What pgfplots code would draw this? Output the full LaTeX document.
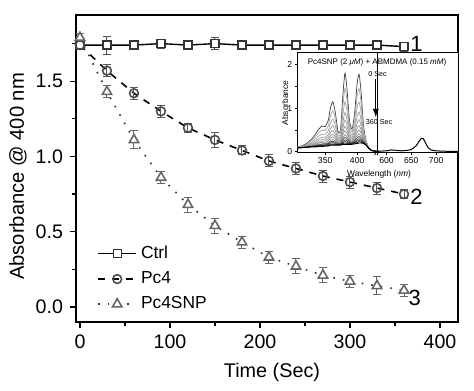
\documentclass[border=0pt]{standalone}
\usepackage{fontspec}
\setmainfont{Liberation Sans}
\usepackage{pgfplots}
\pgfplotsset{compat=1.18}
\usepackage{pgfplotstable}

\pgfplotstableread{
t ctrl ec pc ep snp es
0 1.74 0.02 1.74 0.02 1.79 0.03
30 1.74 0.06 1.57 0.04 1.43 0.04
60 1.74 0.03 1.42 0.04 1.11 0.06
90 1.75 0.03 1.30 0.04 0.86 0.04
120 1.74 0.02 1.19 0.03 0.68 0.05
150 1.75 0.04 1.11 0.05 0.54 0.05
180 1.74 0.02 1.04 0.03 0.43 0.04
210 1.74 0.02 0.97 0.04 0.33 0.04
240 1.74 0.03 0.92 0.04 0.27 0.05
270 1.74 0.03 0.87 0.04 0.21 0.05
300 1.74 0.03 0.83 0.04 0.17 0.04
330 1.74 0.03 0.79 0.04 0.14 0.06
360 1.73 0.03 0.75 0.03 0.11 0.04
}\kin

\pgfplotstableread{
w a0 a1 a2 a3 a4 a5 a6 a7 a8 a9 a10 a11 a12
300 0.09 0.09 0.09 0.08 0.08 0.08 0.08 0.08 0.08 0.08 0.08 0.08 0.08
310 0.12 0.11 0.11 0.10 0.10 0.10 0.10 0.09 0.09 0.09 0.09 0.09 0.09
320 0.18 0.16 0.15 0.14 0.13 0.12 0.12 0.11 0.11 0.11 0.10 0.10 0.10
330 0.31 0.27 0.23 0.20 0.18 0.16 0.15 0.14 0.13 0.12 0.12 0.12 0.11
335 0.41 0.35 0.29 0.25 0.21 0.19 0.17 0.15 0.14 0.13 0.12 0.12 0.11
340 0.52 0.44 0.36 0.30 0.26 0.22 0.20 0.18 0.16 0.15 0.14 0.13 0.12
345 0.59 0.49 0.40 0.33 0.28 0.24 0.21 0.18 0.17 0.15 0.14 0.13 0.12
350 0.58 0.49 0.40 0.33 0.29 0.25 0.22 0.19 0.18 0.16 0.15 0.14 0.13
355 0.73 0.60 0.49 0.40 0.34 0.29 0.25 0.21 0.19 0.17 0.16 0.14 0.13
358 0.99 0.81 0.65 0.52 0.43 0.36 0.31 0.26 0.23 0.20 0.18 0.16 0.15
362 1.15 0.94 0.75 0.60 0.49 0.40 0.34 0.28 0.24 0.21 0.18 0.16 0.15
366 0.89 0.73 0.59 0.48 0.40 0.34 0.29 0.24 0.22 0.19 0.17 0.16 0.15
370 0.47 0.40 0.34 0.29 0.26 0.23 0.21 0.19 0.18 0.17 0.16 0.16 0.15
374 0.50 0.43 0.36 0.31 0.27 0.24 0.22 0.20 0.19 0.17 0.17 0.16 0.15
378 1.36 1.11 0.88 0.70 0.57 0.47 0.40 0.32 0.28 0.24 0.21 0.19 0.17
381 1.81 1.46 1.15 0.90 0.73 0.59 0.48 0.39 0.33 0.27 0.23 0.20 0.17
384 1.46 1.19 0.94 0.75 0.61 0.50 0.42 0.34 0.29 0.25 0.22 0.19 0.17
388 0.72 0.61 0.50 0.42 0.36 0.31 0.28 0.25 0.23 0.21 0.19 0.18 0.17
392 0.52 0.45 0.38 0.33 0.29 0.26 0.24 0.22 0.21 0.19 0.19 0.18 0.17
396 0.88 0.73 0.60 0.50 0.42 0.36 0.32 0.28 0.25 0.23 0.21 0.20 0.18
400 1.58 1.29 1.02 0.81 0.66 0.54 0.45 0.37 0.32 0.27 0.24 0.21 0.19
403 1.78 1.45 1.14 0.91 0.74 0.60 0.50 0.41 0.35 0.30 0.26 0.23 0.20
406 1.39 1.14 0.91 0.73 0.60 0.50 0.43 0.35 0.31 0.27 0.24 0.22 0.20
410 0.59 0.51 0.43 0.37 0.33 0.29 0.27 0.25 0.23 0.22 0.21 0.20 0.19
414 0.25 0.23 0.21 0.20 0.19 0.18 0.17 0.16 0.16 0.16 0.15 0.15 0.15
418 0.10 0.10 0.09 0.09 0.09 0.09 0.08 0.08 0.08 0.08 0.08 0.08 0.08
422 0.03 0.03 0.03 0.03 0.03 0.03 0.03 0.03 0.03 0.03 0.03 0.03 0.03
430 0.01 0.01 0.01 0.01 0.01 0.01 0.01 0.01 0.01 0.01 0.01 0.01 0.01
}\spec

\pgfplotstableread{
w a
580 0.01
600 0.02
610 0.04
620 0.03
630 0.02
640 0.03
650 0.05
660 0.14
665 0.23
670 0.30
674 0.30
678 0.22
684 0.09
690 0.04
700 0.02
720 0.01
744 0.01
}\qband

\begin{document}
\begin{tikzpicture}
\useasboundingbox (-38pt,-34pt) rectangle (199pt,161pt);
\begin{axis}[
  at={(0pt,0pt)}, anchor=south west,
  width=191pt, height=153.5pt, scale only axis,
  xmin=-4.4, xmax=420, ymin=-0.1, ymax=1.94,
  xtick={0,100,200,300,400}, minor xtick={50,150,250,350},
  ytick={0,0.5,1,1.5}, minor ytick={0.25,0.75,1.25,1.75},
  tick pos=left, tick align=outside,
  major tick length=3pt, minor tick length=2pt,
  every tick/.style={black, line width=0.6pt},
  axis line style={line width=0.8pt},
  /pgf/number format/assume math mode=true,
  yticklabel style={/pgf/number format/.cd, fixed, fixed zerofill, precision=1},
  ticklabel style={font=\fontsize{9.8}{11}\selectfont},
  xlabel={Time (Sec)}, ylabel={Absorbance @ 400 nm},
  every axis x label/.style={at={(axis description cs:0.5,0)}, anchor=center, yshift=-25pt, xshift=2.5pt, font=\fontsize{9.9}{12}\selectfont},
  every axis y label/.style={at={(axis description cs:-0.152,0.474)}, anchor=center, rotate=90, font=\fontsize{10.1}{12}\selectfont},
  legend style={at={(0.055,0.262)}, anchor=north west, draw=none, fill=none,
    font=\fontsize{8.7}{10}\selectfont, row sep=1pt, inner sep=0pt},
  legend cell align=left,
  legend image code/.code={\draw[mark repeat=2, mark phase=2, #1] plot coordinates {(0pt,0pt) (9.5pt,0pt) (19pt,0pt)};},
  clip=false,
]
\addplot[black, line width=0.7pt, mark=square*, mark size=2pt,
  mark options={fill=white, solid, draw=black!80},
  error bars/.cd, y dir=both, y explicit,
  error bar style={black!70, line width=0.5pt, solid},
  error mark options={rotate=90, mark size=2pt, black!70, line width=0.5pt}]
  table[x=t, y=ctrl, y error=ec]{\kin};
\addlegendentry{Ctrl}
\addplot[black, line width=0.8pt, dash pattern=on 3.5pt off 3.5pt, mark=o, mark size=2.2pt,
  mark options={fill=white, solid, draw=black!70},
  error bars/.cd, y dir=both, y explicit,
  error bar style={black!65, line width=0.5pt, solid},
  error mark options={rotate=90, mark size=2pt, black!65, line width=0.5pt}]
  table[x=t, y=pc, y error=ep]{\kin};
\addlegendentry{Pc4}
\addplot[black!80, line width=0.8pt, dash pattern=on 0.8pt off 4pt, mark=triangle*, mark size=2.7pt,
  mark options={fill=white, solid, draw=black!60},
  error bars/.cd, y dir=both, y explicit,
  error bar style={black!60, line width=0.5pt, solid},
  error mark options={rotate=90, mark size=2pt, black!60, line width=0.5pt}]
  table[x=t, y=snp, y error=es]{\kin};
\addlegendentry{Pc4SNP}
\node[font=\fontsize{11}{12}\selectfont] at (axis cs:374,1.75) {1};
\node[font=\fontsize{11}{12}\selectfont] at (axis cs:374,0.73) {2};
\node[font=\fontsize{11}{12}\selectfont] at (axis cs:372,0.06) {3};
\end{axis}

% inset left segment
\begin{axis}[
  at={(110.5pt,84.5pt)}, anchor=south west,
  width=40pt, height=50pt, scale only axis,
  xmin=306, xmax=431, ymin=-0.03, ymax=2.27,
  axis x line*=box, axis y line*=left,
  xtick={350,400}, ytick={0,1,2}, minor ytick={0.5,1.5},
  tick pos=left, tick align=outside,
  major tick length=1.2pt, minor tick length=0.8pt,
  every tick/.style={black, line width=0.4pt},
  axis line style={line width=0.5pt},
  ticklabel style={font=\fontsize{4.3}{5}\selectfont, inner sep=1pt},
  /pgf/number format/assume math mode=true,
  axis background/.style={fill=white},
  clip=true,
]
\addplot[black!75, line width=0.35pt, smooth, tension=0.4] table[x=w, y=a0]{\spec};
\addplot[gray!70, line width=0.35pt, smooth, tension=0.4] table[x=w, y=a1]{\spec};
\addplot[gray!70, line width=0.35pt, smooth, tension=0.4] table[x=w, y=a2]{\spec};
\addplot[gray!75, line width=0.35pt, smooth, tension=0.4] table[x=w, y=a3]{\spec};
\addplot[gray!75, line width=0.35pt, smooth, tension=0.4] table[x=w, y=a4]{\spec};
\addplot[gray!80, line width=0.35pt, smooth, tension=0.4] table[x=w, y=a5]{\spec};
\addplot[gray!85, line width=0.35pt, smooth, tension=0.4] table[x=w, y=a6]{\spec};
\addplot[gray!90, line width=0.35pt, smooth, tension=0.4] table[x=w, y=a7]{\spec};
\addplot[black!70, line width=0.35pt, smooth, tension=0.4] table[x=w, y=a8]{\spec};
\addplot[black!75, line width=0.35pt, smooth, tension=0.4] table[x=w, y=a9]{\spec};
\addplot[black!80, line width=0.35pt, smooth, tension=0.4] table[x=w, y=a10]{\spec};
\addplot[black!90, line width=0.35pt, smooth, tension=0.4] table[x=w, y=a11]{\spec};
\addplot[black, line width=0.45pt, smooth, tension=0.4] table[x=w, y=a12]{\spec};
\end{axis}

% inset right segment
\begin{axis}[
  at={(150.5pt,84.5pt)}, anchor=south west,
  width=40.5pt, height=50pt, scale only axis,
  xmin=581, xmax=744, ymin=-0.03, ymax=2.27,
  axis x line*=box, axis y line*=right,
  xtick={600,650,700}, ytick=\empty,
  tick pos=left, tick align=outside,
  major tick length=1.2pt,
  every tick/.style={black, line width=0.4pt},
  axis line style={line width=0.5pt},
  ticklabel style={font=\fontsize{4.3}{5}\selectfont, inner sep=1pt},
  /pgf/number format/assume math mode=true,
  axis background/.style={fill=white},
]
\addplot[black, line width=0.5pt, smooth, tension=0.4] table[x=w, y=a]{\qband};
\end{axis}

% break marks and inset annotations
\draw[black, line width=0.4pt] (149.3pt,83.4pt) -- (150.3pt,85.6pt);
\draw[black, line width=0.4pt] (150.5pt,83.4pt) -- (151.5pt,85.6pt);
\node[font=\fontsize{4}{5}\selectfont] at (150.5pt,129.6pt) {Pc4SNP (2 \textit{μM}) + ABMDMA (0.15 \textit{mM})};
\node[font=\fontsize{3.6}{4.5}\selectfont] at (150.8pt,124pt) {0 Sec};
\draw[-{latex}, black, line width=0.4pt] (149.9pt,121.5pt) -- (149.9pt,102.5pt);
\node[font=\fontsize{3.6}{4.5}\selectfont] at (151.5pt,100pt) {360 Sec};
\node[font=\fontsize{4.2}{5}\selectfont, rotate=90] at (104.5pt,109.5pt) {Absorbance};
\node[font=\fontsize{4.2}{5}\selectfont] at (151.5pt,74pt) {Wavelength (\textit{nm})};
\end{tikzpicture}
\end{document}
